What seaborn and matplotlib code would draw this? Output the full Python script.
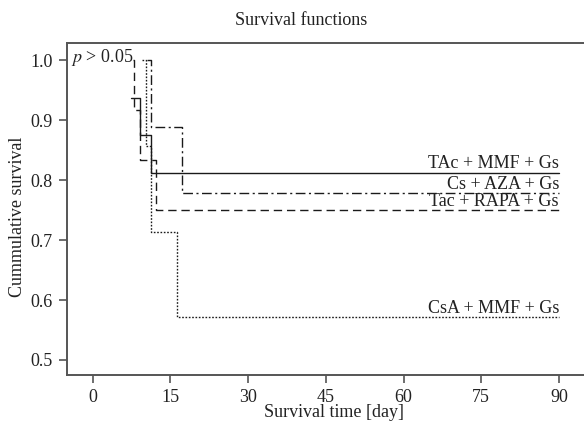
import matplotlib
matplotlib.use("Agg")
import matplotlib.pyplot as plt
import seaborn as sns
import pandas as pd

# ---- data ----
groups = ["TAc + MMF + Gs", "Cs + AZA + Gs", "Tac + RAPA + Gs", "CsA + MMF + Gs"]
tac_mmf_time = [7.3, 9.1, 11.2, 90]
tac_mmf_surv = [0.9375, 0.875, 0.8125, 0.8125]
cs_aza_time = [10.5, 11.25, 17.2, 90]
cs_aza_surv = [1.0, 0.889, 0.778, 0.778]
tac_rapa_time = [7.84, 8.03, 9.13, 12.2, 90]
tac_rapa_surv = [1.0, 0.917, 0.833, 0.75, 0.75]
csa_mmf_time = [9.5, 10.2, 11.2, 16.2, 90]
csa_mmf_surv = [1.0, 0.857, 0.714, 0.571, 0.571]
x_ticks = [0, 15, 30, 45, 60, 75, 90]
y_ticks = [0.5, 0.6, 0.7, 0.8, 0.9, 1.0]
title = "Survival functions"
x_label = "Survival time [day]"
y_label = "Cummulative survival"
p_text = "$p$ > 0.05"

times = [tac_mmf_time, cs_aza_time, tac_rapa_time, csa_mmf_time]
survs = [tac_mmf_surv, cs_aza_surv, tac_rapa_surv, csa_mmf_surv]
styles = ["-", (0, (7, 2.5, 1.5, 2.5)), (0, (6, 3.5)), (0, (1.2, 1.2))]

sns.set_theme(style="white")
plt.rcParams["font.family"] = ["Liberation Serif", "DejaVu Serif"]
plt.rcParams["mathtext.fontset"] = "stix"

fig = plt.figure(figsize=(5.84, 4.22), dpi=100)
ax = fig.add_axes([0.1142, 0.1114, 0.8858, 0.786])

text_color = "#222222"
spine_color = "#555555"

for g, t, s, ls in zip(groups, times, survs, styles):
    df = pd.DataFrame({"time": t, "surv": s})
    sns.lineplot(data=df, x="time", y="surv", ax=ax, drawstyle="steps-post",
                 color="#1a1a1a", linewidth=1.0, linestyle=ls, estimator=None,
                 sort=False)
    ax.text(t[-1], s[-1] + 0.007, g, ha="right", va="baseline",
            fontsize=13, color=text_color)

ax.text(-4.2, 0.997, p_text, ha="left", va="baseline", fontsize=13, color=text_color)

ax.set_xlim(-5.02, 94.83)
ax.set_ylim(0.475, 1.028)
ax.set_xticks(x_ticks)
ax.set_xticklabels([str(v) for v in x_ticks])
ax.set_yticks(y_ticks)
ax.set_yticklabels([f"{v:.1f}" for v in y_ticks])
ax.tick_params(axis="both", direction="out", length=6, width=1.2, color=spine_color,
               labelsize=13, labelcolor=text_color, pad=4, bottom=True, left=True)

for side in ["left", "bottom", "top"]:
    ax.spines[side].set_color(spine_color)
    ax.spines[side].set_linewidth(1.4)
ax.spines["right"].set_visible(False)

ax.set_xlabel(x_label, fontsize=13, color=text_color)
ax.set_ylabel(y_label, fontsize=13, color=text_color)
ax.xaxis.set_label_coords((334 - 66.7) / 517.3, -0.088)
ax.yaxis.set_label_coords((26 - 66.7) / 517.3, 0.476)

fig.text(301 / 584, 1 - 25 / 422, title, ha="center", va="baseline",
         fontsize=13, color=text_color)

fig.savefig("out.png", dpi=100)
